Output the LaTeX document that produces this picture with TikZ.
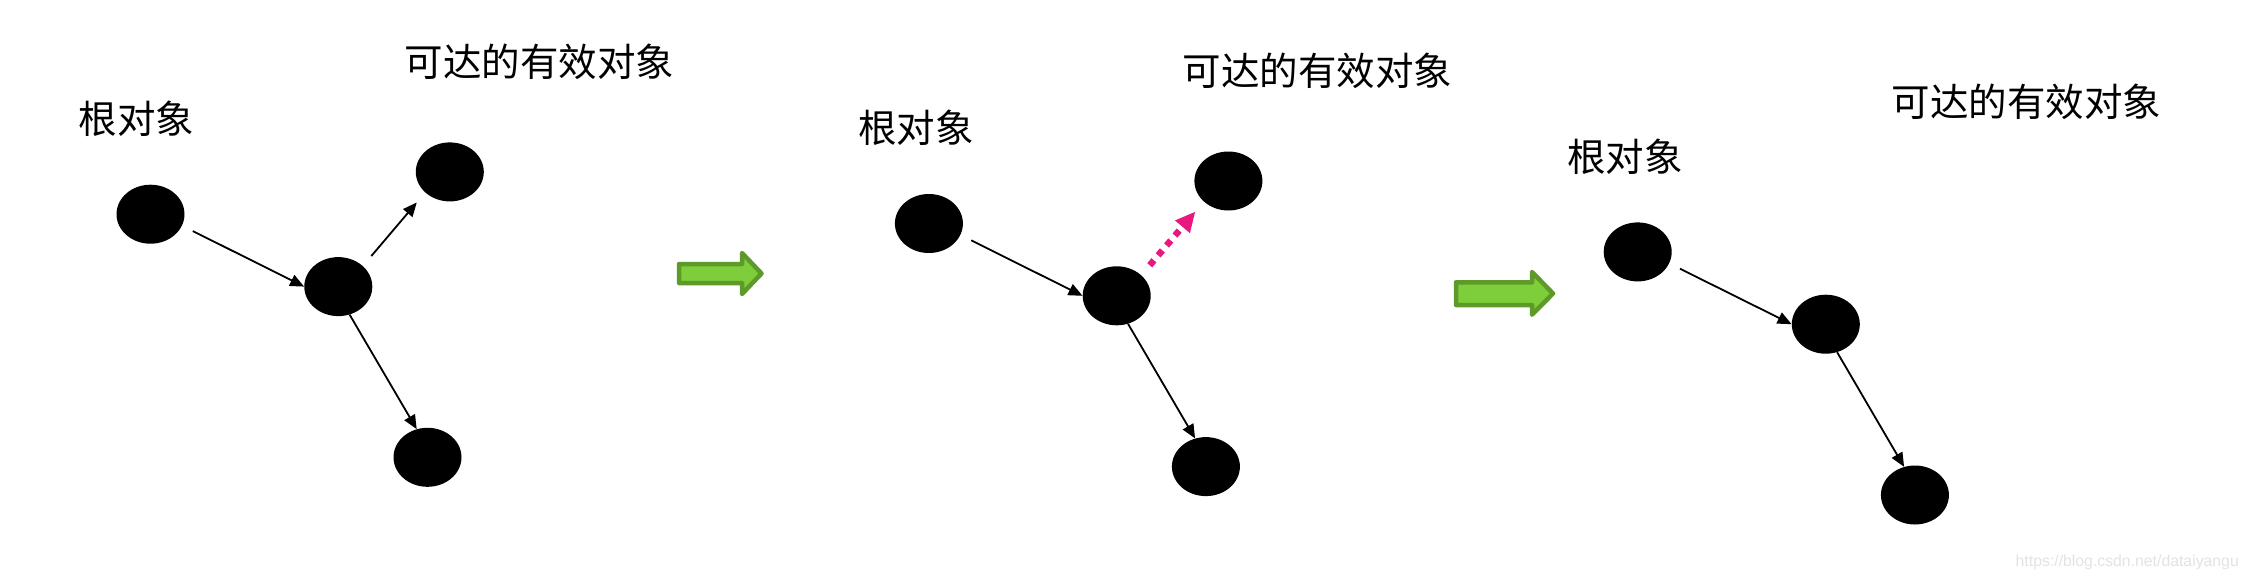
\documentclass[tikz,border=0pt]{standalone}
\usepackage{fontspec}
\newfontfamily\cjk{Noto Sans CJK SC}
\setsansfont{Liberation Sans}
\usetikzlibrary{shapes.geometric,arrows.meta}
\definecolor{gfill}{RGB}{126,206,60}
\definecolor{gline}{RGB}{94,154,42}
\definecolor{pinkarrow}{RGB}{232,24,128}
\tikzset{
  obj/.style={ellipse,fill=black,draw=none,minimum width=68pt,minimum height=59pt,inner sep=0pt},
  lbl/.style={inner sep=0pt,font=\cjk\fontsize{38.5}{40}\selectfont},
  arr/.style={line width=1.8pt,-{Triangle[length=14pt,width=12pt]}},
  pinkarr/.style={pinkarrow,line width=6.5pt,dash pattern=on 6.5pt off 6.5pt,
    -{Triangle[length=20pt,width=18pt]}},
  bigarrow/.style={fill=gfill,draw=gline,line width=4.5pt,line join=round},
  wm/.style={inner sep=0pt,font=\sffamily\fontsize{15.8}{16}\selectfont,text=black!11}
}
\begin{document}
\begin{tikzpicture}[x=1pt,y=-1pt]
\useasboundingbox (0,0) rectangle (2248,582);
\fill[white] (0,0) rectangle (2248,582);

% ---- panel 1 ----
\node[lbl] (l1a) at (136.5,118.4) {根对象};
\node[lbl] (l1b) at (539.5,62) {可达的有效对象};
\node[obj] (r1) at (150.5,214.2) {};
\node[obj] (m1) at (338.3,286.6) {};
\node[obj] (t1) at (449.8,171.9) {};
\node[obj] (b1) at (427.5,457.3) {};
\draw[arr,shorten <=12pt] (r1.-20) -- (m1.west);
\draw[arr,shorten <=13pt,shorten >=13pt] (m1.40) -- (t1.220);
\draw[arr] (m1.-68) -- (b1.111);

% green arrow 1
\draw[bigarrow] (679,264) -- (742,264) -- (742,253) -- (761.5,273.5) -- (742,294) -- (742,283) -- (679,283) -- cycle;

% ---- panel 2 ----
\node[lbl] (l2a) at (916,127.7) {根对象};
\node[lbl] (l2b) at (1317.6,71) {可达的有效对象};
\node[obj] (r2) at (928.9,223.5) {};
\node[obj] (m2) at (1116.7,295.8) {};
\node[obj] (t2) at (1228.4,181) {};
\node[obj] (b2) at (1205.9,466.6) {};
\draw[arr,shorten <=12pt] (r2.-20) -- (m2.west);
\draw[pinkarr,shorten <=13pt,shorten >=13pt] (m2.40) -- (t2.220);
\draw[arr] (m2.-68) -- (b2.111);

% green arrow 2
\draw[bigarrow] (1456,282.3) -- (1532,282.3) -- (1532,272) -- (1553,293.5) -- (1532,314.7) -- (1532,305) -- (1456,305) -- cycle;

% ---- panel 3 ----
\node[lbl] (l3a) at (1625,156.3) {根对象};
\node[lbl] (l3b) at (2026.5,102) {可达的有效对象};
\node[obj] (r3) at (1637.7,251.9) {};
\node[obj] (m3) at (1825.8,324.2) {};
\node[obj] (b3) at (1914.9,495) {};
\draw[arr,shorten <=12pt] (r3.-20) -- (m3.west);
\draw[arr] (m3.-68) -- (b3.111);

% watermark
\node[wm,anchor=east] (wmk) at (2239,562) {https://blog.csdn.net/dataiyangu};
\end{tikzpicture}
\end{document}
